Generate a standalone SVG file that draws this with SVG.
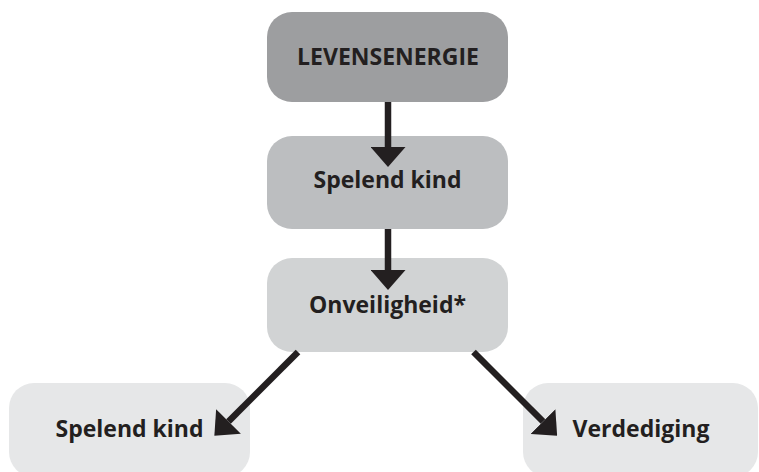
<svg xmlns="http://www.w3.org/2000/svg" width="759" height="472" viewBox="0 0 759 472">
  <defs>
    <style>
      .box { stroke: none; }
      .lbl { font-family: "Open Sans", "Liberation Sans", sans-serif; font-weight: 700; font-size: 23px; fill: #231f20; text-anchor: middle; }
      .conn { stroke: #231f20; stroke-width: 6.5; fill: none; }
    </style>
    <marker id="arrow" viewBox="0 0 20 35" refX="0" refY="17.5" markerWidth="20" markerHeight="35" markerUnits="userSpaceOnUse" orient="auto">
      <path d="M0,0 L20,17.5 L0,35 Z" fill="#231f20"/>
    </marker>
  </defs>
  <rect width="759" height="472" fill="#ffffff"/>
  <g id="node-levensenergie">
    <rect class="box" x="267" y="12" width="241" height="90" rx="25" fill="#9d9ea0"/>
    <text class="lbl" x="388" y="65">LEVENSENERGIE</text>
  </g>
  <g id="node-spelend-kind-1">
    <rect class="box" x="267" y="136" width="241" height="93" rx="25" fill="#bcbec0"/>
    <text class="lbl" x="387.5" y="188">Spelend kind</text>
  </g>
  <g id="node-onveiligheid">
    <rect class="box" x="267" y="258" width="241" height="94" rx="25" fill="#d1d3d4"/>
    <text class="lbl" x="387.5" y="313">Onveiligheid*</text>
  </g>
  <g id="node-spelend-kind-2">
    <rect class="box" x="9" y="383" width="241" height="94" rx="25" fill="#e6e7e8"/>
    <text class="lbl" x="129.5" y="437">Spelend kind</text>
  </g>
  <g id="node-verdediging">
    <rect class="box" x="523" y="383" width="235" height="94" rx="25" fill="#e6e7e8"/>
    <text class="lbl" x="641" y="437">Verdediging</text>
  </g>
  <g id="connectors">
    <line class="conn" x1="388" y1="102" x2="388" y2="147" marker-end="url(#arrow)"/>
    <line class="conn" x1="388" y1="229" x2="388" y2="270" marker-end="url(#arrow)"/>
    <line class="conn" x1="298" y1="352" x2="228.5" y2="421.5" marker-end="url(#arrow)"/>
    <line class="conn" x1="473.5" y1="352" x2="543" y2="421.5" marker-end="url(#arrow)"/>
  </g>
</svg>
